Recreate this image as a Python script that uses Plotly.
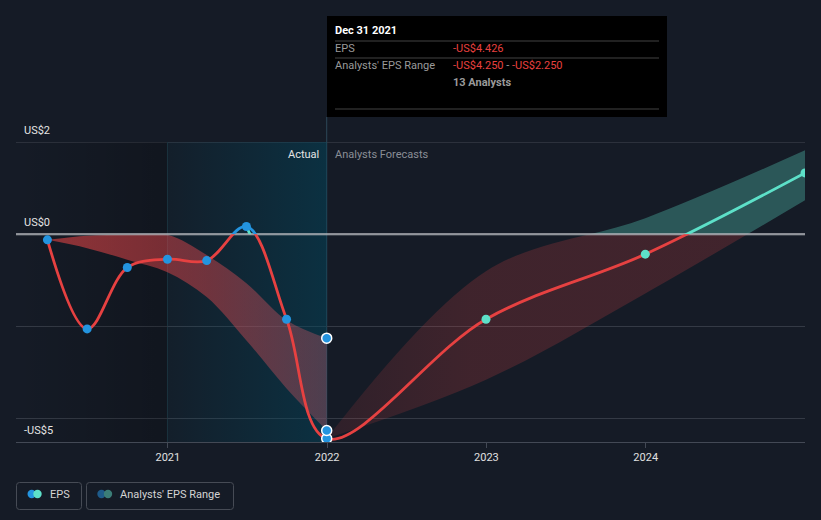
import plotly.graph_objects as go

# ---------------- data ----------------
eps_dates = ["2020-03-31", "2020-06-30", "2020-09-30", "2020-12-31",
             "2021-03-31", "2021-06-30", "2021-09-30", "2021-12-31"]
eps_values = [-0.12, -2.05, -0.72, -0.54, -0.57, 0.17, -1.84, -4.426]
past_range_low = [-0.12, -0.30, -0.55, -0.82, -1.36, -2.30, -3.34, -4.25]
past_range_high = [-0.12, -0.03, -0.01, -0.01, -0.45, -1.06, -1.86, -2.25]

fc_dates = ["2021-12-31", "2022-12-31", "2023-12-31", "2024-12-31"]
fc_values = [-4.426, -1.84, -0.43, 1.33]
fc_low = [-4.426, -3.15, -1.28, 0.74]
fc_high = [-4.426, -0.80, 0.35, 1.82]

hover_date = "2021-12-31"
hover_values = [-4.426, -4.25, -2.25]

year_ticks = ["2021-01-01", "2022-01-01", "2023-01-01", "2024-01-01"]
year_labels = ["2021", "2022", "2023", "2024"]
y_grid = [2, -2, -4]
y_label_vals = [2, 0, -4.5]
y_label_text = ["US$2", "US$0", "-US$5"]

X_RANGE = ["2020-01-19", "2024-12-31"]
Y_MIN, Y_MAX = -4.5, 2.0
PAST_START = "2020-12-31"
PAST_END = "2021-12-31"

BG = "#151b26"
RED = "#e64141"
BLUE = "#2394df"
TEAL = "#5de0c8"
GRID = "#343a45"
FONT = "Roboto, 'Open Sans', sans-serif"

W, H = 821, 520
ML, MR, MT, MB = 16, 16, 142, 78
PW = W - ML - MR
PH = H - MT - MB


def px(x):
    return (x - ML) / PW


def py(y):
    return (H - MB - y) / PH


zero_frac = (0 - Y_MIN) / (Y_MAX - Y_MIN)

fig = go.Figure()

# ---- xy: background regions ----
fig.add_trace(go.Scatter(
    x=[X_RANGE[0], PAST_START, PAST_START, X_RANGE[0], X_RANGE[0]],
    y=[Y_MIN, Y_MIN, Y_MAX, Y_MAX, Y_MIN],
    mode="lines", line=dict(width=0), fill="toself",
    fillgradient=dict(type="horizontal",
                      colorscale=[[0, "rgba(0,0,0,0)"], [1, "rgba(0,0,0,0.2)"]]),
    hoverinfo="skip", xaxis="x", yaxis="y"))
fig.add_trace(go.Scatter(
    x=[PAST_START, PAST_END, PAST_END, PAST_START, PAST_START],
    y=[Y_MIN, Y_MIN, Y_MAX, Y_MAX, Y_MIN],
    mode="lines", line=dict(width=0), fill="toself",
    fillgradient=dict(type="horizontal",
                      colorscale=[[0, "rgba(0,72,95,0.08)"], [1, "rgba(0,72,95,0.48)"]]),
    hoverinfo="skip", xaxis="x", yaxis="y"))

all_dates = eps_dates + fc_dates[1:]
all_values = eps_values + fc_values[1:]

# ---- xy3: below zero (red) ----
fig.add_trace(go.Scatter(x=eps_dates, y=past_range_low, mode="lines",
                         line=dict(width=0, shape="spline"), hoverinfo="skip",
                         xaxis="x", yaxis="y3"))
fig.add_trace(go.Scatter(x=eps_dates, y=past_range_high, mode="lines",
                         line=dict(width=0, shape="spline"), fill="tonexty",
                         fillgradient=dict(type="horizontal", colorscale=[
                             [0, "rgba(232,69,69,0.58)"],
                             [0.57, "rgba(232,72,78,0.44)"],
                             [1, "rgba(232,95,110,0.30)"]]),
                         hoverinfo="skip", xaxis="x", yaxis="y3"))
fig.add_trace(go.Scatter(x=fc_dates, y=fc_low, mode="lines",
                         line=dict(width=0, shape="spline"), hoverinfo="skip",
                         xaxis="x", yaxis="y3"))
fig.add_trace(go.Scatter(x=fc_dates, y=fc_high, mode="lines",
                         line=dict(width=0, shape="spline"), fill="tonexty",
                         fillgradient=dict(type="horizontal", colorscale=[
                             [0, "rgba(232,69,69,0.12)"],
                             [0.3, "rgba(232,69,69,0.2)"],
                             [1, "rgba(232,69,69,0.21)"]]),
                         hoverinfo="skip", xaxis="x", yaxis="y3"))
fig.add_trace(go.Scatter(x=X_RANGE, y=[0, 0], mode="lines",
                         line=dict(width=2, color="#b1b3b8"), hoverinfo="skip",
                         xaxis="x", yaxis="y3"))
fig.add_trace(go.Scatter(x=all_dates, y=all_values, mode="lines",
                         line=dict(width=2.8, color=RED, shape="spline"),
                         hoverinfo="skip", xaxis="x", yaxis="y3"))

# ---- xy2: above zero (blue / teal) ----
fig.add_trace(go.Scatter(x=fc_dates, y=fc_low, mode="lines",
                         line=dict(width=0, shape="spline"), hoverinfo="skip",
                         xaxis="x", yaxis="y2"))
fig.add_trace(go.Scatter(x=fc_dates, y=fc_high, mode="lines",
                         line=dict(width=0, shape="spline"), fill="tonexty",
                         fillcolor="rgba(93,224,200,0.31)",
                         hoverinfo="skip", xaxis="x", yaxis="y2"))
fig.add_trace(go.Scatter(x=X_RANGE, y=[0, 0], mode="lines",
                         line=dict(width=2, color="#b1b3b8"), hoverinfo="skip",
                         xaxis="x", yaxis="y2"))
fig.add_trace(go.Scatter(x=eps_dates, y=eps_values, mode="lines",
                         line=dict(width=2.8, color=BLUE, shape="spline"),
                         hoverinfo="skip", xaxis="x", yaxis="y2"))
fig.add_trace(go.Scatter(x=all_dates[5:], y=all_values[5:], mode="lines",
                         line=dict(width=2.8, color=TEAL, shape="spline"),
                         hoverinfo="skip", xaxis="x", yaxis="y2"))

# ---- xy4: markers on top ----
fig.add_trace(go.Scatter(x=eps_dates[:-1], y=eps_values[:-1], mode="markers",
                         marker=dict(size=9, color=BLUE), hoverinfo="skip",
                         xaxis="x", yaxis="y4"))
fig.add_trace(go.Scatter(x=fc_dates[1:], y=fc_values[1:], mode="markers",
                         marker=dict(size=9, color=TEAL), hoverinfo="skip",
                         xaxis="x", yaxis="y4"))
fig.add_trace(go.Scatter(x=[hover_date] * len(hover_values), y=hover_values,
                         mode="markers",
                         marker=dict(size=10, color=BLUE,
                                     line=dict(width=1.5, color="#ffffff")),
                         hoverinfo="skip", xaxis="x", yaxis="y4"))

shapes = []
# top gridline (at the upper edge of the plot)
shapes.append(dict(type="line", xref="paper", yref="y", x0=0, x1=1,
                   y0=y_grid[0], y1=y_grid[0], line=dict(color=GRID, width=1.5),
                   layer="below"))
# vertical lines at 2021 and hover date
shapes.append(dict(type="line", xref="x", yref="paper", x0=PAST_START, x1=PAST_START,
                   y0=0, y1=1, line=dict(color="#1f3744", width=1), layer="below"))
shapes.append(dict(type="line", xref="x", yref="paper", x0=hover_date, x1=hover_date,
                   y0=0, y1=py(117), line=dict(color="#2c4858", width=1), layer="below"))

# tooltip box
shapes.append(dict(type="rect", xref="paper", yref="paper",
                   x0=px(327), x1=px(667), y0=py(117), y1=py(16),
                   fillcolor="#000000", line=dict(width=0), layer="above"))
for sy in [41, 58, 109]:
    shapes.append(dict(type="line", xref="paper", yref="paper",
                       x0=px(335), x1=px(659), y0=py(sy), y1=py(sy),
                       line=dict(color="#434343", width=1), layer="above"))


def rounded_rect(x0, y0, x1, y1, r):
    pts = [
        f"M {px(x0 + r)},{py(y0)}",
        f"L {px(x1 - r)},{py(y0)}",
        f"Q {px(x1)},{py(y0)} {px(x1)},{py(y0 + r)}",
        f"L {px(x1)},{py(y1 - r)}",
        f"Q {px(x1)},{py(y1)} {px(x1 - r)},{py(y1)}",
        f"L {px(x0 + r)},{py(y1)}",
        f"Q {px(x0)},{py(y1)} {px(x0)},{py(y1 - r)}",
        f"L {px(x0)},{py(y0 + r)}",
        f"Q {px(x0)},{py(y0)} {px(x0 + r)},{py(y0)} Z",
    ]
    return " ".join(pts)


shapes.append(dict(type="path", xref="paper", yref="paper",
                   path=rounded_rect(16.5, 482.5, 81.5, 509.5, 3),
                   line=dict(color="#464b55", width=1)))
shapes.append(dict(type="path", xref="paper", yref="paper",
                   path=rounded_rect(86.5, 482.5, 233.5, 509.5, 3),
                   line=dict(color="#464b55", width=1)))


def dot(cx, cy, r, color):
    return dict(type="circle", xref="paper", yref="paper",
                x0=px(cx - r), x1=px(cx + r), y0=py(cy + r), y1=py(cy - r),
                fillcolor=color, line=dict(width=0))


shapes.append(dot(31.7, 494, 4.2, BLUE))
shapes.append(dot(37.5, 494, 4.2, TEAL))
shapes.append(dot(101.5, 494, 4.2, "#1e5b8a"))
shapes.append(dot(108, 494, 4.2, "#3b7d77"))

annotations = []
for v, t in zip(y_label_vals, y_label_text):
    annotations.append(dict(xref="paper", yref="y", x=0, y=v, text=t,
                            xanchor="left", yanchor="middle", xshift=6, yshift=12,
                            showarrow=False,
                            font=dict(size=11, color="#e4e4e4", family=FONT)))
annotations.append(dict(xref="x", yref="paper", x=hover_date, y=1, text="Actual",
                        xanchor="right", yanchor="middle", xshift=-6, yshift=-12,
                        showarrow=False, font=dict(size=11, color="#e4e4e4", family=FONT)))
annotations.append(dict(xref="x", yref="paper", x=hover_date, y=1,
                        text="Analysts Forecasts",
                        xanchor="left", yanchor="middle", xshift=6, yshift=-12,
                        showarrow=False, font=dict(size=11, color="#8a8e96", family=FONT)))


def tip(x, y, text, color, bold=False):
    if bold:
        text = f"<b>{text}</b>"
    annotations.append(dict(xref="paper", yref="paper", x=px(x), y=py(y), text=text,
                            xanchor="left", yanchor="middle", showarrow=False,
                            font=dict(size=11, color=color, family=FONT)))


tip(333, 31, "Dec 31 2021", "#ffffff", bold=True)
tip(333, 49, "EPS", "#9a9a9a")
tip(451, 49, "-US$4.426", "#e8403f")
tip(333, 66, "Analysts' EPS Range", "#9a9a9a")
tip(451, 66, '<span style="color:#e8403f">-US$4.250</span> - '
             '<span style="color:#e8403f">-US$2.250</span>', "#9a9a9a")
tip(451, 83, "13 Analysts", "#9a9a9a", bold=True)

# legend texts
tip(48, 494, "EPS", "#d4d4d4")
tip(118, 494, "Analysts' EPS Range", "#d4d4d4")

fig.update_layout(
    width=W, height=H,
    margin=dict(l=ML, r=MR, t=MT, b=MB, pad=0),
    paper_bgcolor=BG, plot_bgcolor="rgba(0,0,0,0)",
    showlegend=False, hovermode=False,
    font=dict(family=FONT, size=11, color="#e0e0e0"),
    xaxis=dict(type="date", range=X_RANGE, tickvals=year_ticks, ticktext=year_labels,
               ticks="outside", ticklen=5, tickcolor="#434955", showgrid=False,
               showline=True, linecolor="#434955", linewidth=1, zeroline=False,
               tickfont=dict(size=11, color="#e0e0e0", family=FONT),
               anchor="y", fixedrange=True),
    yaxis=dict(range=[Y_MIN, Y_MAX], domain=[0, 1], tickvals=y_grid,
               showticklabels=False, ticks="", showgrid=True, gridcolor=GRID,
               gridwidth=1, zeroline=False, showline=False, fixedrange=True),
    yaxis2=dict(range=[0, Y_MAX], domain=[zero_frac, 1], anchor="x", visible=False,
                showgrid=False, zeroline=False, fixedrange=True),
    yaxis3=dict(range=[Y_MIN, 0], domain=[0, zero_frac], anchor="x", visible=False,
                showgrid=False, zeroline=False, fixedrange=True),
    yaxis4=dict(range=[Y_MIN, Y_MAX], domain=[0, 1], anchor="x", visible=False,
                showgrid=False, zeroline=False, fixedrange=True),
    shapes=shapes,
    annotations=annotations,
)

fig.write_html("out.html", config={"displayModeBar": False},
               post_script="document.body.style.margin='0px';"
                           "document.body.style.background='" + BG + "';")
